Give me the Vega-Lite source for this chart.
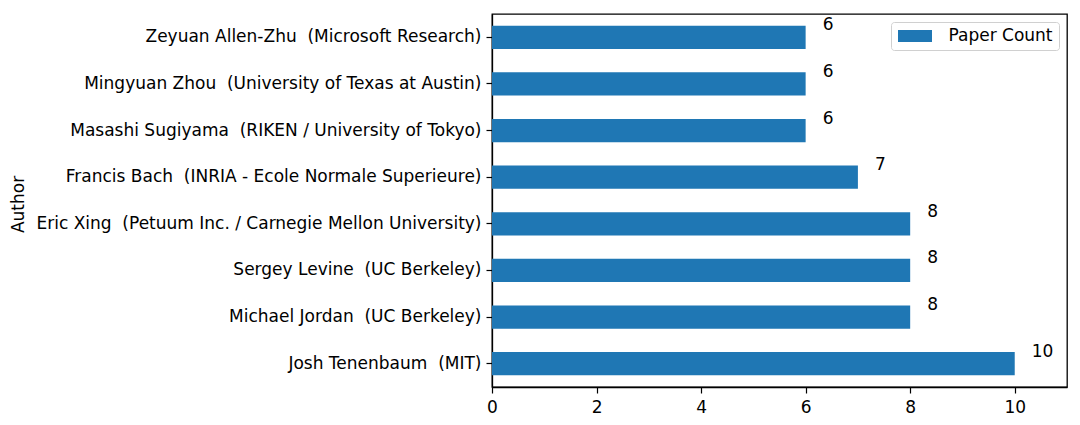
{
  "$schema": "https://vega.github.io/schema/vega-lite/v6.json",
  "width": 575,
  "height": 373,
  "autosize": "none",
  "padding": {"left": 492, "top": 14, "right": 13, "bottom": 38},
  "background": "white",
  "config": {
    "font": "DejaVu Sans",
    "view": {"stroke": "black", "strokeWidth": 1.3},
    "axis": {
      "labelFont": "DejaVu Sans",
      "labelFontSize": 17,
      "labelColor": "black",
      "titleFont": "DejaVu Sans",
      "titleFontSize": 17,
      "titleFontWeight": "normal",
      "titleColor": "black",
      "tickColor": "black",
      "tickSize": 6,
      "tickWidth": 1.2,
      "domainColor": "black",
      "domainWidth": 1.3,
      "grid": false
    },
    "legend": {
      "labelFont": "DejaVu Sans",
      "labelFontSize": 17,
      "labelColor": "black"
    }
  },
  "data": {
    "values": [
      {"author": "Zeyuan Allen-Zhu \u00a0(Microsoft Research)", "count": 6, "order": 1},
      {"author": "Mingyuan Zhou \u00a0(University of Texas at Austin)", "count": 6, "order": 2},
      {"author": "Masashi Sugiyama \u00a0(RIKEN / University of Tokyo)", "count": 6, "order": 3},
      {"author": "Francis Bach \u00a0(INRIA - Ecole Normale Superieure)", "count": 7, "order": 4},
      {"author": "Eric Xing \u00a0(Petuum Inc. / Carnegie Mellon University)", "count": 8, "order": 5},
      {"author": "Sergey Levine \u00a0(UC Berkeley)", "count": 8, "order": 6},
      {"author": "Michael Jordan \u00a0(UC Berkeley)", "count": 8, "order": 7},
      {"author": "Josh Tenenbaum \u00a0(MIT)", "count": 10, "order": 8}
    ]
  },
  "encoding": {
    "y": {
      "field": "author",
      "type": "nominal",
      "sort": {"field": "order", "order": "ascending"},
      "scale": {"paddingInner": 0.5, "paddingOuter": 0.25},
      "axis": {
        "title": "Author",
        "titleX": -474,
        "titleY": 190,
        "titleAngle": -90,
        "titleAlign": "center",
        "titleBaseline": "middle",
        "labelPadding": 5,
        "labelLimit": 600
      }
    },
    "x": {
      "field": "count",
      "type": "quantitative",
      "scale": {"domain": [0, 11], "nice": false, "zero": true},
      "axis": {"title": null, "values": [0, 2, 4, 6, 8, 10], "labelPadding": 6, "labelFlush": false}
    }
  },
  "layer": [
    {
      "mark": {"type": "bar"},
      "encoding": {
        "color": {
          "datum": "Paper Count",
          "type": "nominal",
          "scale": {"range": ["#1f77b4"]},
          "legend": {
            "title": null,
            "orient": "top-right",
            "offset": 8,
            "padding": 5.5,
            "strokeColor": "#d0d0d0",
            "fillColor": "white",
            "cornerRadius": 3,
            "symbolType": "M-2,-0.7H2V0.7H-2Z",
            "symbolSize": 289,
            "symbolOffset": 10,
            "symbolStrokeWidth": 0,
            "symbolOpacity": 1,
            "labelOffset": 25
          }
        }
      }
    },
    {
      "mark": {"type": "text", "align": "left", "baseline": "middle", "dx": 17, "dy": -12, "fontSize": 17, "color": "black", "font": "DejaVu Sans"},
      "encoding": {"text": {"field": "count", "type": "quantitative"}}
    }
  ]
}
